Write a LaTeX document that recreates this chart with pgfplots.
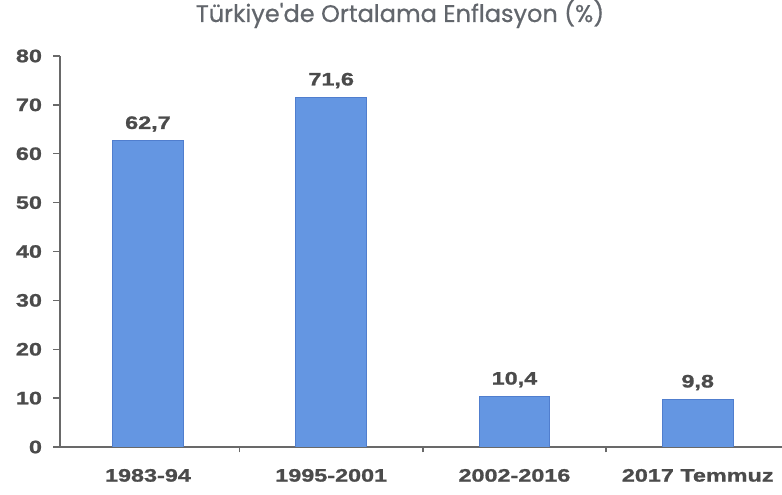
\documentclass[border=0pt]{standalone}
\usepackage{pgfplots}
\pgfplotsset{compat=1.18}
\usepackage{fontspec}
\setmainfont{Liberation Sans}
\newfontfamily\lblfont[FakeStretch=1.3, FakeBold=1.2]{Liberation Sans}
\newfontfamily\titlefont[FakeBold=0.6]{Poppins}
\definecolor{barblue}{RGB}{100,150,226}
\definecolor{baredge}{RGB}{80,126,206}
\definecolor{lblgray}{RGB}{75,75,75}
\definecolor{axgray}{RGB}{105,105,105}
\definecolor{titlegray}{RGB}{98,102,108}
\begin{document}
\begin{tikzpicture}
\useasboundingbox (0,0) rectangle (586.5pt,371.25pt);
\node[anchor=base, text=titlegray, font=\titlefont\fontsize{18}{21}\selectfont] at (300pt,354.75pt) {Türkiye'de Ortalama Enflasyon (\%)};
\begin{axis}[
  at={(45pt,36pt)}, anchor=south west,
  scale only axis, width=541.5pt, height=293.25pt,
  xmin=-0.48, xmax=3.46, ymin=0, ymax=80,
  axis lines*=left,
  axis line style={axgray, line width=1.2pt},
  ytick={0,10,...,80},
  xtick={0,1,2,3},
  xticklabels={1983-94,1995-2001,2002-2016,2017 Temmuz},
  minor xtick={0.5,1.5,2.5},
  major x tick style={draw=none},
  tick align=outside,
  major tick length=5pt,
  minor tick length=4pt,
  tick style={axgray, line width=1pt},
  /pgf/number format/assume math mode=true,
  ticklabel style={font=\lblfont\bfseries\fontsize{13.5}{16}\selectfont, text=lblgray},
  yticklabel style={xshift=-5pt},
  xticklabel style={yshift=-8pt},
  ybar, bar width=53pt,
  point meta=explicit symbolic,
  nodes near coords,
  every node near coord/.append style={font=\lblfont\bfseries\fontsize{13.5}{16}\selectfont, text=lblgray, yshift=3pt},
]
\addplot[fill=barblue, draw=baredge, line width=0.6pt] coordinates {
  (0,62.7) [62,7]
  (1,71.6) [71,6]
  (2,10.4) [10,4]
  (3,9.8) [9,8]
};
\end{axis}
\end{tikzpicture}
\end{document}
